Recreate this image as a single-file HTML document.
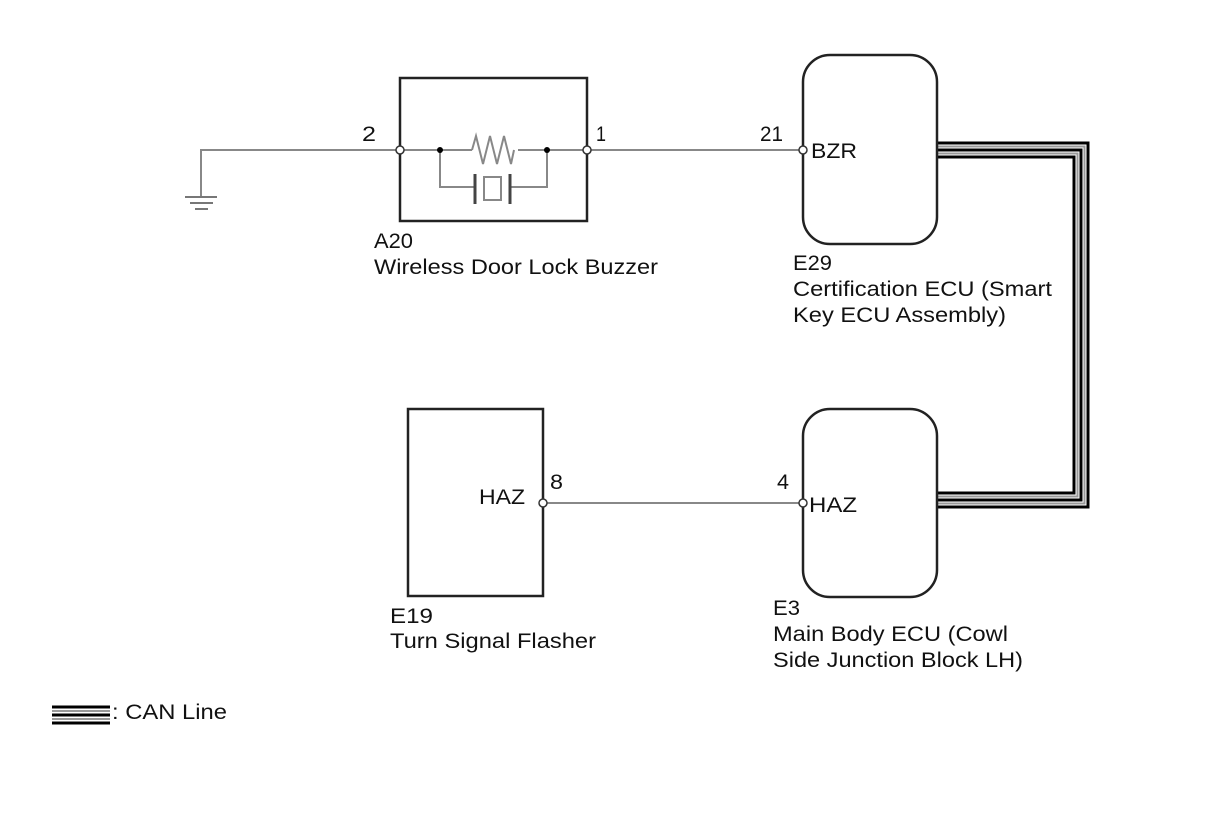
<!DOCTYPE html>
<html><head><meta charset="utf-8"><style>
html,body{margin:0;padding:0;background:#fff;}
svg{display:block;}
text{font-family:"Liberation Sans",Arial,sans-serif;font-size:21px;fill:#111;}
</style></head><body>
<svg width="1210" height="814" viewBox="0 0 1210 814" xmlns="http://www.w3.org/2000/svg">
<g fill="none" stroke-linejoin="miter">
<path d="M938 143 H1088 V507 H938" stroke="#000" stroke-width="3"/>
<path d="M938 146.5 H1084.5 V503.5 H938" stroke="#999" stroke-width="2"/>
<path d="M938 150 H1081 V500 H938" stroke="#000" stroke-width="3"/>
<path d="M938 153.5 H1077.5 V496.5 H938" stroke="#999" stroke-width="2"/>
<path d="M938 157 H1074 V493 H938" stroke="#000" stroke-width="3"/>
</g>
<g stroke="#888" stroke-width="2" fill="none">
<path d="M201 197 V150 H400"/>
<path d="M587 150 H803"/>
<path d="M543 503 H803"/>
<path d="M400 150 H472 M518 150 H587"/>
<path d="M472 150 l4 -14 l7 28 l7 -28 l7 28 l7 -28 l7 28 l3 -14"/>
<path d="M440 150 V187 H474 M547 150 V187 H510"/>
<rect x="484" y="177" width="17" height="23"/>
</g>
<g stroke="#444" stroke-width="3">
<path d="M475 174 V204 M510 174 V204"/>
</g>
<g stroke="#777" stroke-width="2">
<path d="M185 197 H217 M190 203 H213 M195 209 H208"/>
</g>
<g fill="none" stroke="#222" stroke-width="2.5">
<rect x="400" y="78" width="187" height="143"/>
<rect x="408" y="409" width="135" height="187"/>
<rect x="803" y="55" width="134" height="189" rx="27"/>
<rect x="803" y="409" width="134" height="188" rx="27"/>
</g>
<g fill="#000"><circle cx="440" cy="150" r="3"/><circle cx="547" cy="150" r="3"/></g>
<g fill="#fff" stroke="#333" stroke-width="1.5">
<circle cx="400" cy="150" r="4"/><circle cx="587" cy="150" r="4"/>
<circle cx="803" cy="150" r="4"/><circle cx="543" cy="503" r="4"/><circle cx="803" cy="503" r="4"/>
</g>
<g lengthAdjust="spacingAndGlyphs">
<text x="362" y="141" textLength="14" lengthAdjust="spacingAndGlyphs">2</text>
<text x="596" y="141" textLength="10" lengthAdjust="spacingAndGlyphs">1</text>
<text x="760" y="141" textLength="23" lengthAdjust="spacingAndGlyphs">21</text>
<text x="811" y="158" textLength="46" lengthAdjust="spacingAndGlyphs">BZR</text>
<text x="550" y="489" textLength="13" lengthAdjust="spacingAndGlyphs">8</text>
<text x="777" y="489" textLength="12" lengthAdjust="spacingAndGlyphs">4</text>
<text x="479" y="504" textLength="46" lengthAdjust="spacingAndGlyphs">HAZ</text>
<text x="809" y="512" textLength="48" lengthAdjust="spacingAndGlyphs">HAZ</text>
<text x="374" y="248" textLength="39" lengthAdjust="spacingAndGlyphs">A20</text>
<text x="374" y="274" textLength="284" lengthAdjust="spacingAndGlyphs">Wireless Door Lock Buzzer</text>
<text x="793" y="270" textLength="39" lengthAdjust="spacingAndGlyphs">E29</text>
<text x="793" y="296" textLength="259" lengthAdjust="spacingAndGlyphs">Certification ECU (Smart</text>
<text x="793" y="322" textLength="213" lengthAdjust="spacingAndGlyphs">Key ECU Assembly)</text>
<text x="390" y="623" textLength="43" lengthAdjust="spacingAndGlyphs">E19</text>
<text x="390" y="648" textLength="206" lengthAdjust="spacingAndGlyphs">Turn Signal Flasher</text>
<text x="773" y="615" textLength="27" lengthAdjust="spacingAndGlyphs">E3</text>
<text x="773" y="641" textLength="235" lengthAdjust="spacingAndGlyphs">Main Body ECU (Cowl</text>
<text x="773" y="667" textLength="250" lengthAdjust="spacingAndGlyphs">Side Junction Block LH)</text>
</g>
<g stroke-width="3">
<path d="M52 707 H110" stroke="#000"/>
<path d="M52 711 H110" stroke="#999" stroke-width="2"/>
<path d="M52 715 H110" stroke="#000"/>
<path d="M52 719 H110" stroke="#999" stroke-width="2"/>
<path d="M52 723 H110" stroke="#000"/>
</g>
<text x="112" y="719" textLength="115" lengthAdjust="spacingAndGlyphs">: CAN Line</text>
</svg>
</body></html>
